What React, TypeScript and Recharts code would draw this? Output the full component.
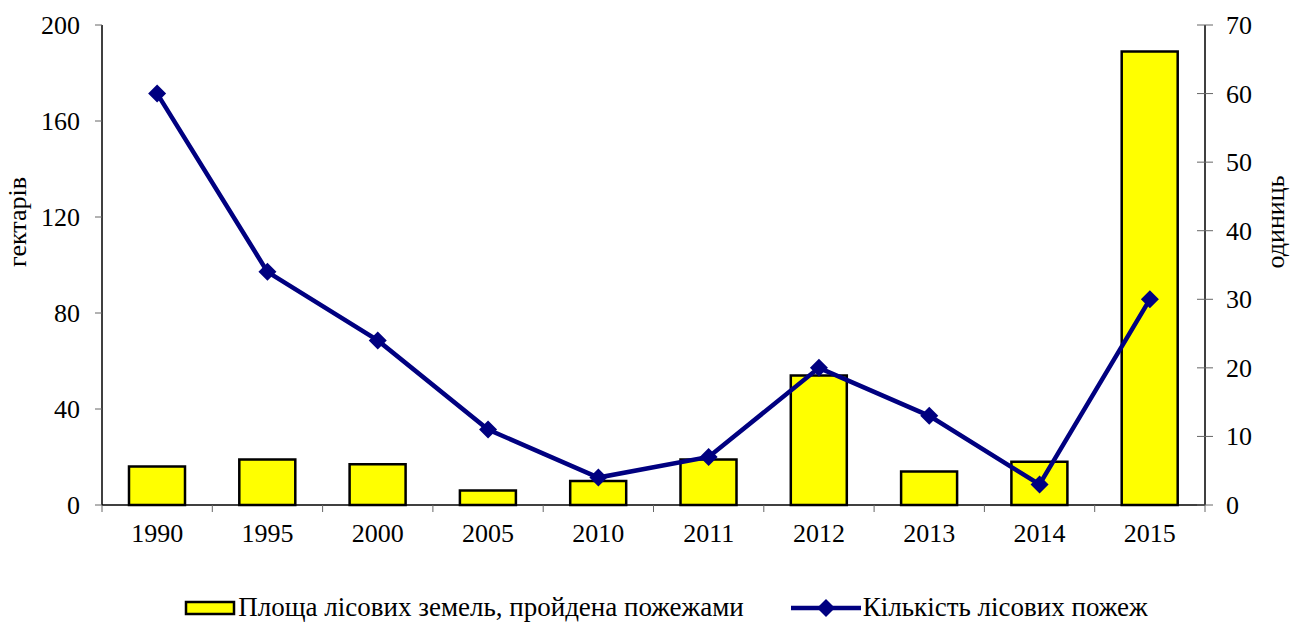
import { ComposedChart, Bar, Line, XAxis, YAxis, Legend } from 'recharts'

const years = ['1990', '1995', '2000', '2005', '2010', '2011', '2012', '2013', '2014', '2015']
const burnedArea = [16, 19, 17, 6, 10, 19, 54, 14, 18, 189]
const fireCount = [60, 34, 24, 11, 4, 7, 20, 13, 3, 30]
const leftTicks = [0, 40, 80, 120, 160, 200]
const rightTicks = [0, 10, 20, 30, 40, 50, 60, 70]

const AREA_NAME = 'Площа лісових земель, пройдена пожежами'
const COUNT_NAME = 'Кількість лісових пожеж'

const W = 1292
const H = 623
const PLOT_LEFT = 102
const PLOT_RIGHT = 1205
const PLOT_TOP = 25
const PLOT_BOTTOM = 505
const BAND = (PLOT_RIGHT - PLOT_LEFT) / years.length
const FONT = "'Liberation Serif', 'Times New Roman', Tinos, serif"
const NAVY = '#000080'
const TICK_FONT = { fontFamily: FONT, fontSize: 26 }

const chartData = years.map((year, i) => ({
  year,
  area: burnedArea[i],
  count: fireCount[i],
}))

function XTick({ x, payload, index }: any) {
  const left = x - BAND / 2
  return (
    <g>
      <line x1={left} x2={left} y1={PLOT_BOTTOM} y2={PLOT_BOTTOM + 7} stroke="#666" />
      {index === years.length - 1 && (
        <line x1={x + BAND / 2} x2={x + BAND / 2} y1={PLOT_BOTTOM} y2={PLOT_BOTTOM + 7} stroke="#666" />
      )}
      <text x={x} y={PLOT_BOTTOM + 37} textAnchor="middle" style={TICK_FONT} fill="#000">
        {payload.value}
      </text>
    </g>
  )
}

function LeftTick({ y, payload }: any) {
  return (
    <g>
      <line x1={PLOT_LEFT - 7} x2={PLOT_LEFT} y1={y} y2={y} stroke="#666" />
      <text x={PLOT_LEFT - 22} y={y + 9} textAnchor="end" style={TICK_FONT} fill="#000">
        {payload.value}
      </text>
    </g>
  )
}

function RightTick({ y, payload }: any) {
  return (
    <g>
      <line x1={PLOT_RIGHT - 8} x2={PLOT_RIGHT + 8} y1={y} y2={y} stroke="#666" />
      <text x={PLOT_RIGHT + 21} y={y + 9} textAnchor="start" style={TICK_FONT} fill="#000">
        {payload.value}
      </text>
    </g>
  )
}

function Diamond({ cx, cy }: any) {
  if (cx == null || cy == null) return null
  const r = 9
  return <path d={`M${cx},${cy - r} L${cx + r},${cy} L${cx},${cy + r} L${cx - r},${cy} Z`} fill={NAVY} />
}

function ChartLegend() {
  return (
    <div
      style={{
        display: 'flex',
        justifyContent: 'center',
        alignItems: 'center',
        gap: 47,
        paddingTop: 29,
        paddingLeft: 40,
        fontFamily: FONT,
        fontSize: 27,
        color: '#000',
      }}
    >
      <div style={{ display: 'flex', alignItems: 'center' }}>
        <svg width={52} height={16} style={{ marginRight: 2 }}>
          <rect x={2} y={2} width={48} height={12} fill="#FFFF00" stroke="#000" strokeWidth={2.5} />
        </svg>
        <span>{AREA_NAME}</span>
      </div>
      <div style={{ display: 'flex', alignItems: 'center' }}>
        <svg width={70} height={20} style={{ marginRight: 2 }}>
          <line x1={0} x2={70} y1={10} y2={10} stroke={NAVY} strokeWidth={4.5} />
          <path d="M35,1 L44,10 L35,19 L26,10 Z" fill={NAVY} />
        </svg>
        <span>{COUNT_NAME}</span>
      </div>
    </div>
  )
}

export default function App() {
  return (
    <div style={{ position: 'absolute', left: 0, top: 0, width: W, height: H, background: '#fff' }}>
      <ComposedChart
        width={W}
        height={H}
        data={chartData}
        margin={{ top: PLOT_TOP, right: 0, bottom: 0, left: 0 }}
      >
        <XAxis
          dataKey="year"
          height={58}
          axisLine={{ stroke: '#000', strokeWidth: 1.5 }}
          tickLine={false}
          tick={<XTick />}
          interval={0}
        />
        <YAxis
          yAxisId="left"
          width={PLOT_LEFT}
          domain={[0, 200]}
          ticks={leftTicks}
          axisLine={{ stroke: '#000', strokeWidth: 1.5 }}
          tickLine={false}
          tick={<LeftTick />}
          label={{
            content: () => (
              <text
                x={26}
                y={222}
                transform="rotate(-90 26 222)"
                textAnchor="middle"
                style={{ fontFamily: FONT, fontSize: 26 }}
                fill="#000"
              >
                гектарів
              </text>
            ),
          }}
        />
        <YAxis
          yAxisId="right"
          orientation="right"
          width={W - PLOT_RIGHT}
          domain={[0, 70]}
          ticks={rightTicks}
          axisLine={{ stroke: '#000', strokeWidth: 1.5 }}
          tickLine={false}
          tick={<RightTick />}
          label={{
            content: () => (
              <text
                x={1284}
                y={222}
                transform="rotate(-90 1284 222)"
                textAnchor="middle"
                style={{ fontFamily: FONT, fontSize: 26 }}
                fill="#000"
              >
                одиниць
              </text>
            ),
          }}
        />
        <Legend verticalAlign="bottom" height={60} content={<ChartLegend />} />
        <Bar
          yAxisId="left"
          dataKey="area"
          name={AREA_NAME}
          fill="#FFFF00"
          stroke="#000"
          strokeWidth={2.5}
          barSize={56}
          isAnimationActive={false}
        />
        <Line
          yAxisId="right"
          dataKey="count"
          name={COUNT_NAME}
          stroke={NAVY}
          strokeWidth={4.5}
          dot={<Diamond />}
          activeDot={false}
          isAnimationActive={false}
        />
      </ComposedChart>
    </div>
  )
}
